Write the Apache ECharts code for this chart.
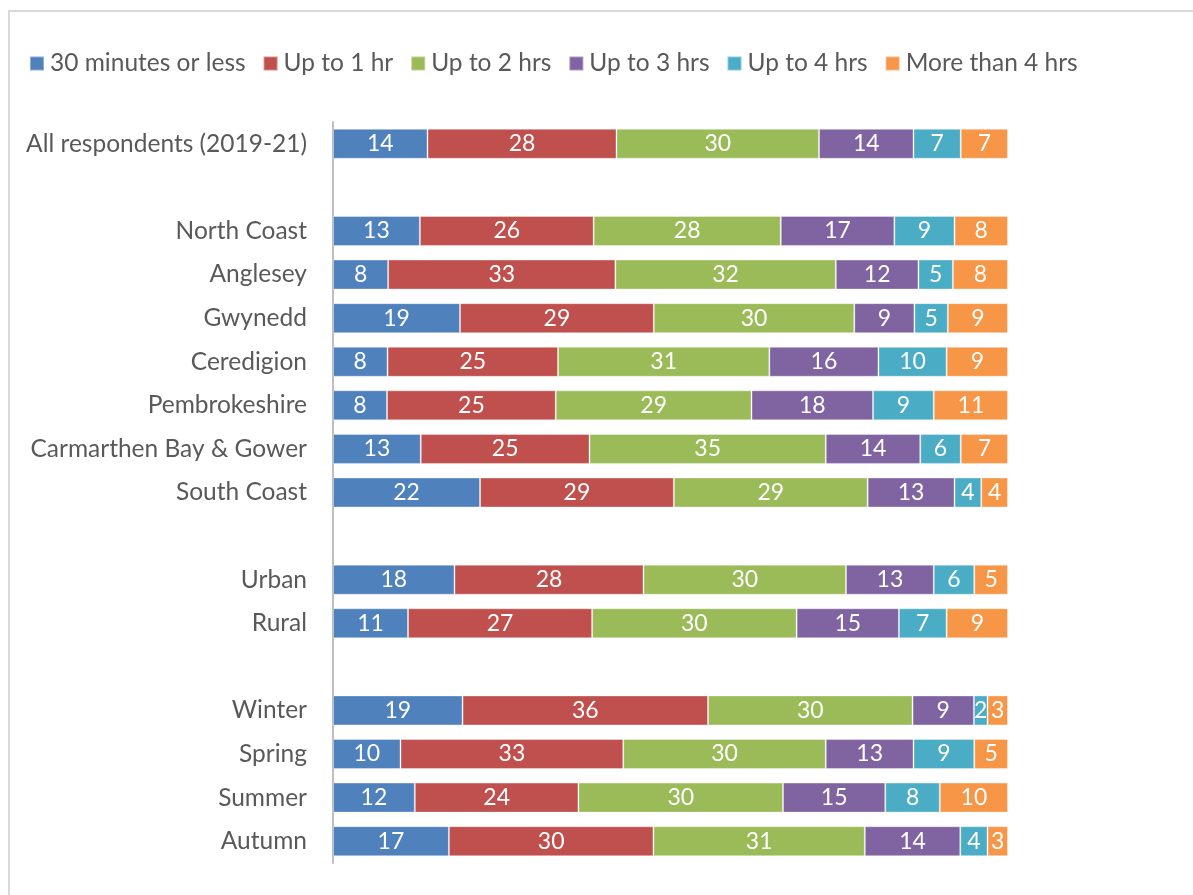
<!DOCTYPE html>
<html><head><meta charset="utf-8">
<script src="https://cdn.jsdelivr.net/npm/echarts@6/dist/echarts.min.js"></script>
<style>
html,body{margin:0;padding:0;background:#fff;overflow:hidden}
#frame{position:absolute;left:8px;top:10px;width:1300px;height:1000px;border:2px solid #d9d9d9;box-sizing:border-box}
#c{position:absolute;left:0;top:0;width:1193px;height:895px}
</style></head>
<body><div id="frame"></div><div id="c"></div>
<script>
const categories = ['All respondents (2019-21)','', 'North Coast','Anglesey','Gwynedd','Ceredigion','Pembrokeshire','Carmarthen Bay & Gower','South Coast','', 'Urban','Rural','', 'Winter','Spring','Summer','Autumn'];
const seriesNames = ['30 minutes or less','Up to 1 hr','Up to 2 hrs','Up to 3 hrs','Up to 4 hrs','More than 4 hrs'];
const colors = ['#4F81BD','#C0504D','#9BBB59','#8064A2','#4BACC6','#F79646'];
const min30  = [14,null,13,8,19,8,8,13,22,null,18,11,null,19,10,12,17];
const upTo1  = [28,null,26,33,29,25,25,25,29,null,28,27,null,36,33,24,30];
const upTo2  = [30,null,28,32,30,31,29,35,29,null,30,30,null,30,30,30,31];
const upTo3  = [14,null,17,12,9,16,18,14,13,null,13,15,null,9,13,15,14];
const upTo4  = [7,null,9,5,5,10,9,6,4,null,6,7,null,2,9,8,4];
const more4  = [7,null,8,8,9,9,11,7,4,null,5,9,null,3,5,10,3];
const raw = [min30, upTo1, upTo2, upTo3, upTo4, more4];

const font = 'Lato, "Open Sans", sans-serif';
const sums = categories.map((c,i)=> raw.reduce((s,a)=> s + (a[i]||0), 0));

const series = raw.map((arr,k)=>({
  name: seriesNames[k], type:'bar', stack:'total', barWidth:30,
  itemStyle:{color:colors[k], borderColor:'rgba(255,255,255,0.35)', borderWidth:1},
  label:{show:true, position:'inside', color:'#fff', fontFamily:font, fontSize:23,
    formatter:p=> p.data && p.data.raw!=null ? String(p.data.raw) : ''},
  data: arr.map((v,i)=> v==null ? null : {value: v/sums[i]*100, raw: v})
}));

const chart = echarts.init(document.getElementById('c'));
chart.setOption({
  animation:false,
  color: colors,
  legend:{left:24, top:46, itemWidth:14, itemHeight:14, itemGap:17, icon:'rect',
    textStyle:{fontFamily:font, fontSize:24.5, color:'#595959', padding:[0,0,0,1]},
    data: seriesNames},
  grid:{left:333, right:185, top:122, bottom:32, containLabel:false},
  xAxis:{type:'value', min:0, max:100, show:false, splitLine:{show:false}},
  yAxis:{type:'category', inverse:true, data:categories,
    axisLine:{show:true, lineStyle:{color:'#bfbfbf', width:2}},
    axisTick:{show:false},
    axisLabel:{fontFamily:font, fontSize:24.5, color:'#595959', margin:26}},
  series: series
});
</script></body></html>
